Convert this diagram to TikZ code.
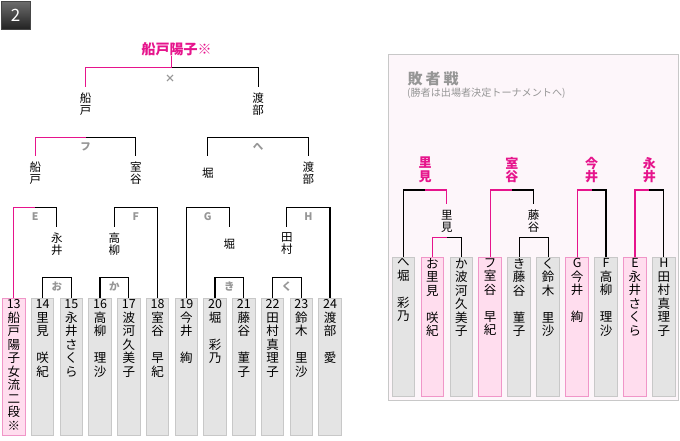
\documentclass[tikz,border=0pt]{standalone}
\usepackage{fontspec}
\newfontfamily\jp{Noto Sans CJK JP}

% fonts of the bracket
\newcommand\boxfont{\jp\fontsize{12.5pt}{13.5pt}\selectfont}
\newcommand\namefont{\jp\fontsize{11.5pt}{12pt}\selectfont}
\newcommand\winfont{\jp\bfseries\fontsize{13pt}{13.5pt}\selectfont}
\newcommand\tagfont{\jp\bfseries\fontsize{10.5pt}{10.5pt}\selectfont}
\newcommand\blankrow{\mbox{}}

% colours
\definecolor{grayfill}{RGB}{228,228,228}
\definecolor{grayline}{RGB}{200,200,200}
\definecolor{pinkfill}{RGB}{255,221,238}
\definecolor{pinkline}{RGB}{240,150,200}
\definecolor{winpink}{RGB}{230,20,140}
\definecolor{taggray}{RGB}{150,150,150}
\definecolor{panelfill}{RGB}{253,246,250}

\begin{document}
\begin{tikzpicture}[
    x=1pt, y=-1pt,
    % player boxes
    player/.style={draw=#1line, fill=#1fill, line width=1pt, inner sep=0pt,
        minimum width=22.5pt, minimum height=137pt, anchor=north},
    player/.default=gray,
    boxtext/.style={anchor=north, yshift=-1.5pt, font=\boxfont, align=center, inner sep=0pt},
    % names in the bracket
    pname/.style={font=\namefont, align=center, inner sep=0pt, minimum height=34pt},
    win name/.style={font=\winfont, text=winpink, align=center, inner sep=0pt},
    round tag/.style={font=\tagfont, text=taggray, inner sep=0pt},
    % lines
    bracket line/.style={line width=1.1pt},
    win line/.style={bracket line, draw=winpink}
]
    \useasboundingbox (0,0) rectangle (680,440);

    % ---------------- badge ----------------
    \node[draw={rgb,255:red,70;green,70;blue,70}, top color={rgb,255:red,110;green,110;blue,110},
        bottom color={rgb,255:red,35;green,35;blue,35}, minimum width=29pt, minimum height=28pt,
        text=white, font=\jp\fontsize{17pt}{17pt}\selectfont, inner sep=0pt] (badge) at (15.5,15) {2};

    % ---------------- main bracket: boxes ----------------
    \node[player=pink, label={[boxtext]north:{13\\船\\戸\\陽\\子\\女\\流\\二\\段\\※}}] (p13) at (13.75,298) {};
    \foreach \num/\txt [count=\i] in {
        14/{里\\見\\\blankrow\\咲\\紀}, 15/{永\\井\\さ\\く\\ら}, 16/{高\\柳\\\blankrow\\理\\沙},
        17/{波\\河\\久\\美\\子}, 18/{室\\谷\\\blankrow\\早\\紀}, 19/{今\\井\\\blankrow\\絢},
        20/{堀\\\blankrow\\彩\\乃}, 21/{藤\\谷\\\blankrow\\菫\\子}, 22/{田\\村\\真\\理\\子},
        23/{鈴\\木\\\blankrow\\里\\沙}, 24/{渡\\部\\\blankrow\\愛}} {
        \node[player, label={[boxtext]north:{\num\\\txt}}] (p\num) at ({13.75+28.75*\i},298) {};
    }

    % names
    \node[pname] (nagai2) at (56.9,243.7) {永\\井};
    \node[pname] (takayanagi2) at (114.4,243.7) {高\\柳};
    \node[pname] (hori2) at (229.4,243.7) {堀};
    \node[pname] (tamura2) at (286.9,243.7) {田\\村};
    \node[pname] (funato3) at (35.3,173) {船\\戸};
    \node[pname] (murotani3) at (135.9,173) {室\\谷};
    \node[pname] (hori3) at (207.8,173) {堀};
    \node[pname] (watanabe3) at (308.4,173) {渡\\部};
    \node[pname] (funato4) at (85.6,103.7) {船\\戸};
    \node[pname] (watanabe4) at (258.1,103.7) {渡\\部};
    \node[win name, font=\jp\bfseries\fontsize{14pt}{14pt}\selectfont, anchor=south] (champ) at (176.5,56) {船戸陽子※};

    % bar centres
    \coordinate (bO) at (56.9,277.3);
    \coordinate (bKa) at (114.4,277.3);
    \coordinate (bKi) at (229.4,277.3);
    \coordinate (bKu) at (286.9,277.3);
    \coordinate (bE) at (35.3,207.3);
    \coordinate (bF) at (135.9,207.3);
    \coordinate (bG) at (207.8,207.3);
    \coordinate (bH) at (308.4,207.3);
    \coordinate (bFu) at (85.6,137.3);
    \coordinate (bHe) at (258.1,137.3);
    \coordinate (bTop) at (171.9,67.7);

    % first round
    \draw[bracket line] (p14.north) |- (bO) -| (p15.north);
    \draw[bracket line] (p16.north) |- (bKa) -| (p17.north);
    \draw[bracket line] (p20.north) |- (bKi) -| (p21.north);
    \draw[bracket line] (p22.north) |- (bKu) -| (p23.north);
    % second round
    \draw[bracket line] (bE) -| (nagai2.north);
    \draw[bracket line] (takayanagi2.north) |- (bF) -| (p18.north);
    \draw[bracket line] (p19.north) |- (bG) -| (hori2.north);
    \draw[bracket line] (tamura2.north) |- (bH) -| (p24.north);
    % third round and final
    \draw[bracket line] (bFu) -| (murotani3.north);
    \draw[bracket line] (hori3.north) |- (bHe) -| (watanabe3.north);
    \draw[bracket line] (bTop) -| (watanabe4.north);
    % path of the winner
    \draw[win line] (p13.north) |- (bE);
    \draw[win line] (funato3.north) |- (bFu);
    \draw[win line] (funato4.north) |- (bTop) -- (bTop |- champ.south);

    % round tags
    \node[round tag] (tO) at (56.9,287) {お};
    \node[round tag] (tKa) at (114.4,287) {か};
    \node[round tag] (tKi) at (229.4,287) {き};
    \node[round tag] (tKu) at (286.9,287) {く};
    \node[round tag] (tE) at (35.3,216.5) {E};
    \node[round tag] (tF) at (135.9,216.5) {F};
    \node[round tag] (tG) at (207.8,216.5) {G};
    \node[round tag] (tH) at (308.4,216.5) {H};
    \node[round tag] (tFu) at (85.6,146.7) {フ};
    \node[round tag] (tHe) at (258.1,146.7) {へ};
    \node[round tag] (tTop) at (170,79) {×};

    % ---------------- consolation panel ----------------
    \draw[draw=grayline, fill=panelfill, line width=1pt] (388.3,54.3) rectangle (678.3,400);
    \node[anchor=west, text=taggray, font=\jp\bfseries\fontsize{15pt}{15pt}\selectfont, inner sep=0pt]
        (ltitle) at (407.5,79) {敗\hspace{3pt}者\hspace{3pt}戦};
    \node[anchor=west, text=taggray, font=\jp\fontsize{10.1pt}{10.1pt}\selectfont, inner sep=0pt]
        (lnote) at (407,93) {(勝者は出場者決定トーナメントへ)};

    \foreach \id/\lab/\kind/\txt [count=\j from 0] in {
        he/へ/gray/{堀\\\blankrow\\彩\\乃}, o/お/pink/{里\\見\\\blankrow\\咲\\紀},
        ka/か/gray/{波\\河\\久\\美\\子}, fu/フ/pink/{室\\谷\\\blankrow\\早\\紀},
        ki/き/gray/{藤\\谷\\\blankrow\\菫\\子}, ku/く/gray/{鈴\\木\\\blankrow\\里\\沙},
        G/G/pink/{今\\井\\\blankrow\\絢}, F/F/gray/{高\\柳\\\blankrow\\理\\沙},
        E/E/pink/{永\\井\\さ\\く\\ら}, H/H/gray/{田\\村\\真\\理\\子}} {
        \node[player=\kind, minimum height=139.3pt, label={[boxtext]north:{\lab\\\txt}}]
            (l-\id) at ({403.35+28.95*\j},256.7) {};
    }

    % names
    \node[pname] (satomiIn) at (446.8,221) {里\\見};
    \node[pname] (fujitaniIn) at (533.6,221) {藤\\谷};
    \node[win name] (wSatomi) at (425.1,170) {里\\見};
    \node[win name] (wMurotani) at (511.9,170) {室\\谷};
    \node[win name] (wImai) at (591.5,170) {今\\井};
    \node[win name] (wNagai) at (649.4,170) {永\\井};

    \coordinate (bSi) at (446.8,237.7);
    \coordinate (bFi) at (533.6,237.7);
    \coordinate (bSo) at (425.1,190);
    \coordinate (bMo) at (511.9,190);
    \coordinate (bIm) at (591.5,190);
    \coordinate (bNa) at (649.4,190);

    \draw[bracket line] (bSi) -| (l-ka.north);
    \draw[bracket line] (l-ki.north) |- (bFi) -| (l-ku.north);
    \draw[bracket line] (l-he.north) |- (bSo);
    \draw[bracket line] (bMo) -| (fujitaniIn.north);
    \draw[bracket line] (bIm) -| (l-F.north);
    \draw[bracket line] (bNa) -| (l-H.north);
    \draw[win line] (l-o.north) |- (bSi);
    \draw[win line] (satomiIn.north) |- (bSo);
    \draw[win line] (l-fu.north) |- (bMo);
    \draw[win line] (l-G.north) |- (bIm);
    \draw[win line] (l-E.north) |- (bNa);
\end{tikzpicture}
\end{document}
